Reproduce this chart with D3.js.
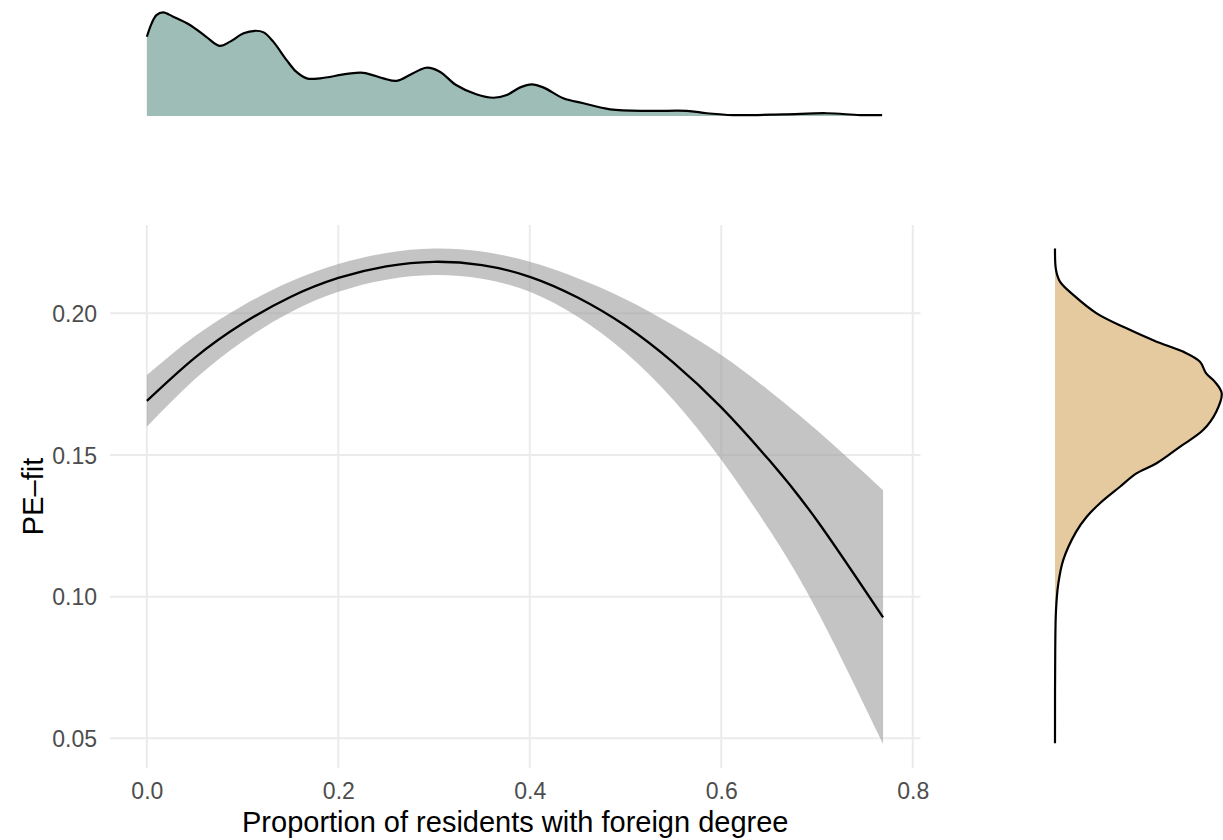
<!DOCTYPE html>
<html>
<head>
<meta charset="utf-8">
<script src="https://cdn.jsdelivr.net/npm/d3@7"></script>
<style>
  html, body { margin: 0; padding: 0; background: #ffffff; }
  svg { display: block; font-family: "Liberation Sans", Arial, sans-serif; }
</style>
</head>
<body>
<svg id="chart" width="1223" height="840"></svg>
<script>
// Tick positions and labels
const xTicks = [0, 0.2, 0.4, 0.6, 0.8];
const yTicks = [0.05, 0.10, 0.15, 0.20];

// Fitted curve with its confidence band
const fitX    = [0, 0.05, 0.10, 0.15, 0.20, 0.25, 0.30, 0.35, 0.40, 0.45, 0.50, 0.55, 0.60, 0.65, 0.70, 0.769];
const fitY    = [0.1691, 0.1843, 0.1964, 0.2058, 0.2125, 0.2166, 0.2182, 0.2170, 0.2129, 0.2056, 0.1956, 0.1826, 0.1668, 0.1482, 0.1269, 0.0927];
const ciUpper = [0.1782, 0.1919, 0.2027, 0.2112, 0.2174, 0.2213, 0.2229, 0.2218, 0.2182, 0.2124, 0.2050, 0.1958, 0.1853, 0.1727, 0.1587, 0.1376];
const ciLower = [0.1600, 0.1767, 0.1901, 0.2004, 0.2076, 0.2119, 0.2135, 0.2122, 0.2076, 0.1988, 0.1862, 0.1694, 0.1483, 0.1237, 0.0951, 0.0480];

// Marginal density of the proportion (top)
const densX = [0, 0.005, 0.010, 0.017, 0.0275, 0.045, 0.062, 0.076, 0.087, 0.101, 0.113, 0.122, 0.132, 0.146, 0.156, 0.167, 0.181, 0.209, 0.226, 0.247, 0.261, 0.278, 0.292, 0.306, 0.323, 0.344, 0.362, 0.376, 0.390, 0.402, 0.414, 0.435, 0.456, 0.484, 0.525, 0.564, 0.585, 0.612, 0.665, 0.710, 0.745, 0.768];
const densY = [3.43, 4.01, 4.37, 4.49, 4.30, 3.94, 3.43, 3.04, 3.22, 3.58, 3.69, 3.62, 3.22, 2.42, 1.92, 1.63, 1.63, 1.82, 1.87, 1.63, 1.52, 1.85, 2.09, 1.92, 1.34, 0.94, 0.79, 0.91, 1.24, 1.37, 1.24, 0.77, 0.55, 0.29, 0.22, 0.22, 0.12, 0.04, 0.07, 0.12, 0.04, 0.04];

// Marginal density of PE-fit (right)
const peV = [0.2229, 0.2153, 0.2112, 0.2065, 0.2000, 0.1947, 0.1900, 0.1865, 0.1829, 0.1788, 0.1759, 0.1718, 0.1653, 0.1588, 0.1529, 0.1471, 0.1435, 0.1388, 0.1330, 0.1282, 0.1228, 0.1130, 0.1047, 0.0953, 0.0812, 0.0483];
const peD = [0, 0.13, 0.64, 2.36, 5.37, 9.23, 13.1, 16.5, 18.7, 19.5, 20.6, 21.5, 20.8, 19.1, 16.1, 13.1, 10.5, 8.38, 5.80, 4.09, 2.7, 1.07, 0.43, 0.13, 0.03, 0];

const svg = d3.select("#chart");
svg.append("rect").attr("width", 1223).attr("height", 840).attr("fill", "#ffffff");

// Main panel geometry
const panel = { left: 110, right: 920.5, top: 225, bottom: 768 };
const x = d3.scaleLinear().domain([-0.0385, 0.8081]).range([panel.left, panel.right]);
const y = d3.scaleLinear().domain([0.03954, 0.23118]).range([panel.bottom, panel.top]);

// Grid lines
const grid = svg.append("g").attr("stroke", "#ebebeb").attr("stroke-width", 2);
grid.selectAll("line.v").data(xTicks).join("line")
  .attr("class", "v")
  .attr("x1", d => x(d)).attr("x2", d => x(d))
  .attr("y1", panel.top).attr("y2", panel.bottom);
grid.selectAll("line.h").data(yTicks).join("line")
  .attr("class", "h")
  .attr("x1", panel.left).attr("x2", panel.right)
  .attr("y1", d => y(d)).attr("y2", d => y(d));

// Confidence band
const idx = d3.range(fitX.length);
svg.append("path")
  .datum(idx)
  .attr("fill", "#999999")
  .attr("fill-opacity", 0.58)
  .attr("d", d3.area()
    .x(i => x(fitX[i]))
    .y0(i => y(ciLower[i]))
    .y1(i => y(ciUpper[i]))
    .curve(d3.curveNatural));

// Fitted line
svg.append("path")
  .datum(idx)
  .attr("fill", "none")
  .attr("stroke", "#000000")
  .attr("stroke-width", 2.3)
  .attr("d", d3.line()
    .x(i => x(fitX[i]))
    .y(i => y(fitY[i]))
    .curve(d3.curveNatural));

// Axes (labels only, no ticks or domain line)
const xAxis = d3.axisBottom(x).tickValues(xTicks).tickFormat(d3.format(".1f"))
  .tickSize(0).tickPadding(15);
const gx = svg.append("g").attr("transform", `translate(0,${panel.bottom})`).call(xAxis);
gx.select(".domain").remove();
gx.selectAll("text").attr("fill", "#4d4d4d").attr("font-size", 23)
  .attr("font-family", "Liberation Sans, Arial, sans-serif");

const yAxis = d3.axisLeft(y).tickValues(yTicks).tickFormat(d3.format(".2f"))
  .tickSize(0).tickPadding(13);
const gy = svg.append("g").attr("transform", `translate(${panel.left},0)`).call(yAxis);
gy.select(".domain").remove();
gy.selectAll("text").attr("fill", "#4d4d4d").attr("font-size", 23).attr("dy", "0.36em")
  .attr("font-family", "Liberation Sans, Arial, sans-serif");

// Axis titles
svg.append("text")
  .attr("x", (panel.left + panel.right) / 2).attr("y", 832)
  .attr("text-anchor", "middle").attr("font-size", 29).attr("fill", "#000000")
  .text("Proportion of residents with foreign degree");
svg.append("text")
  .attr("transform", `translate(43,${(panel.top + panel.bottom) / 2}) rotate(-90)`)
  .attr("text-anchor", "middle").attr("font-size", 29).attr("fill", "#000000")
  .text("PE\u2013fit");

// Top marginal density
const yTop = d3.scaleLinear().domain([0, 4.49]).range([116, 12.3]);
const topIdx = d3.range(densX.length);
svg.append("path")
  .datum(topIdx)
  .attr("fill", "#9dbdb6")
  .attr("d", d3.area()
    .x(i => x(densX[i]))
    .y0(yTop(0))
    .y1(i => yTop(densY[i]))
    .curve(d3.curveCatmullRom));
svg.append("path")
  .datum(topIdx)
  .attr("fill", "none").attr("stroke", "#000000").attr("stroke-width", 2.2)
  .attr("d", d3.line()
    .x(i => x(densX[i]))
    .y(i => yTop(densY[i]))
    .curve(d3.curveCatmullRom));

// Right marginal density
const xRight = d3.scaleLinear().domain([0, 21.5]).range([1055, 1221.7]);
const rIdx = d3.range(peV.length);
svg.append("path")
  .datum(rIdx)
  .attr("fill", "#e5caa0")
  .attr("d", d3.area()
    .y(i => y(peV[i]))
    .x0(xRight(0))
    .x1(i => xRight(peD[i]))
    .curve(d3.curveCatmullRom));
svg.append("path")
  .datum(rIdx)
  .attr("fill", "none").attr("stroke", "#000000").attr("stroke-width", 2.2)
  .attr("d", d3.line()
    .x(i => xRight(peD[i]))
    .y(i => y(peV[i]))
    .curve(d3.curveCatmullRom));
</script>
</body>
</html>
